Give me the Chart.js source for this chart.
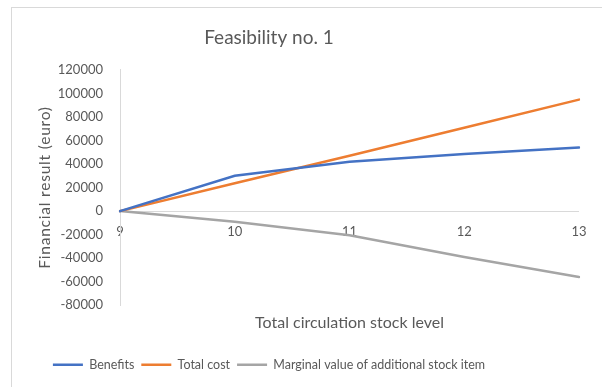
<!DOCTYPE html>
<html>
<head>
<meta charset="utf-8">
<script src="https://cdn.jsdelivr.net/npm/chart.js@4"></script>
<style>
  html, body { margin: 0; padding: 0; background: #ffffff; }
  #wrap { position: relative; width: 602px; height: 387px; overflow: hidden; }
  #frame { position: absolute; left: 11px; top: 7px; width: 620px; height: 420px;
           border: 1px solid #d9d9d9; box-sizing: border-box; }
  #c { position: absolute; left: 0; top: 0; }
</style>
</head>
<body>
<div id="wrap">
  <div id="frame"></div>
  <canvas id="c" width="602" height="387"></canvas>
</div>
<script>
// Stock levels on the horizontal axis
const stockLevels = ['9', '10', '11', '12', '13'];

// Financial results in euro per stock level
const benefits = [0, 30000, 42000, 48500, 54000];
const totalCost = [0, 23700, 47000, 70800, 94700];
const marginalValue = [0, -9000, -20500, -39000, -56000];

const seriesNames = ['Benefits', 'Total cost', 'Marginal value of additional stock item'];

const FONT = "Lato, 'Liberation Sans', sans-serif";
const TEXT = '#595959';
const AXIS = '#d9d9d9';

// Slightly spaced lettering for the rotated value-axis title
const spacedAxisTitle = {
  id: 'spacedAxisTitle',
  beforeDraw(chart) {
    const s = chart.scales.y;
    if (s && !s._spaced) {
      const orig = s.drawTitle;
      s.drawTitle = function () {
        this.ctx.save();
        this.ctx.letterSpacing = '0.8px';
        orig.call(this);
        this.ctx.restore();
      };
      s._spaced = true;
    }
  }
};

new Chart(document.getElementById('c'), {
  type: 'line',
  data: {
    labels: stockLevels,
    datasets: [
      { label: seriesNames[0], data: benefits, borderColor: '#4472C4', backgroundColor: '#4472C4', borderWidth: 2.5 },
      { label: seriesNames[1], data: totalCost, borderColor: '#ED7D31', backgroundColor: '#ED7D31', borderWidth: 2.5 },
      { label: seriesNames[2], data: marginalValue, borderColor: '#A5A5A5', backgroundColor: '#A5A5A5', borderWidth: 2.5 }
    ]
  },
  options: {
    responsive: false,
    animation: false,
    devicePixelRatio: 1,
    layout: { padding: { left: -41, right: 23, top: 0, bottom: 6 } },
    elements: {
      line: { tension: 0, borderCapStyle: 'round' },
      point: { radius: 0, hoverRadius: 0 }
    },
    scales: {
      x: {
        type: 'category',
        position: { y: 0 },
        offset: false,
        grid: { display: false, drawTicks: false },
        border: { display: false },
        ticks: { color: TEXT, font: { family: FONT, size: 13 }, padding: 13, maxRotation: 0 }
      },
      xt: {
        type: 'category',
        position: 'bottom',
        offset: false,
        grid: { display: false, drawTicks: false },
        border: { display: false },
        ticks: { display: false },
        title: {
          display: true,
          text: 'Total circulation stock level',
          color: TEXT,
          font: { family: FONT, size: 16 },
          padding: { top: 8, bottom: 19 }
        }
      },
      y: {
        min: -80000,
        max: 120000,
        ticks: {
          stepSize: 20000,
          color: TEXT,
          font: { family: FONT, size: 13 },
          padding: 17,
          callback: v => String(v)
        },
        grid: {
          drawTicks: false,
          color: ctx => (ctx.tick && ctx.tick.value === 0) ? AXIS : 'rgba(0,0,0,0)',
          lineWidth: 1
        },
        border: { display: true, color: AXIS, width: 1 },
        title: {
          display: true,
          text: 'Financial result (euro)',
          color: TEXT,
          font: { family: FONT, size: 15.5 },
          padding: { top: 77, bottom: 0 }
        },
        afterFit: scale => { scale.width = 161; }
      }
    },
    plugins: {
      title: {
        display: true,
        text: 'Feasibility no. 1',
        color: TEXT,
        font: { family: FONT, size: 19, weight: 'normal' },
        padding: { top: 26, bottom: 21 }
      },
      legend: {
        position: 'bottom',
        labels: {
          color: TEXT,
          font: { family: FONT, size: 12.5 },
          usePointStyle: true,
          pointStyle: 'line',
          pointStyleWidth: 30,
          padding: 7
        }
      },
      tooltip: { enabled: false }
    }
  },
  plugins: [spacedAxisTitle]
});
</script>
</body>
</html>
